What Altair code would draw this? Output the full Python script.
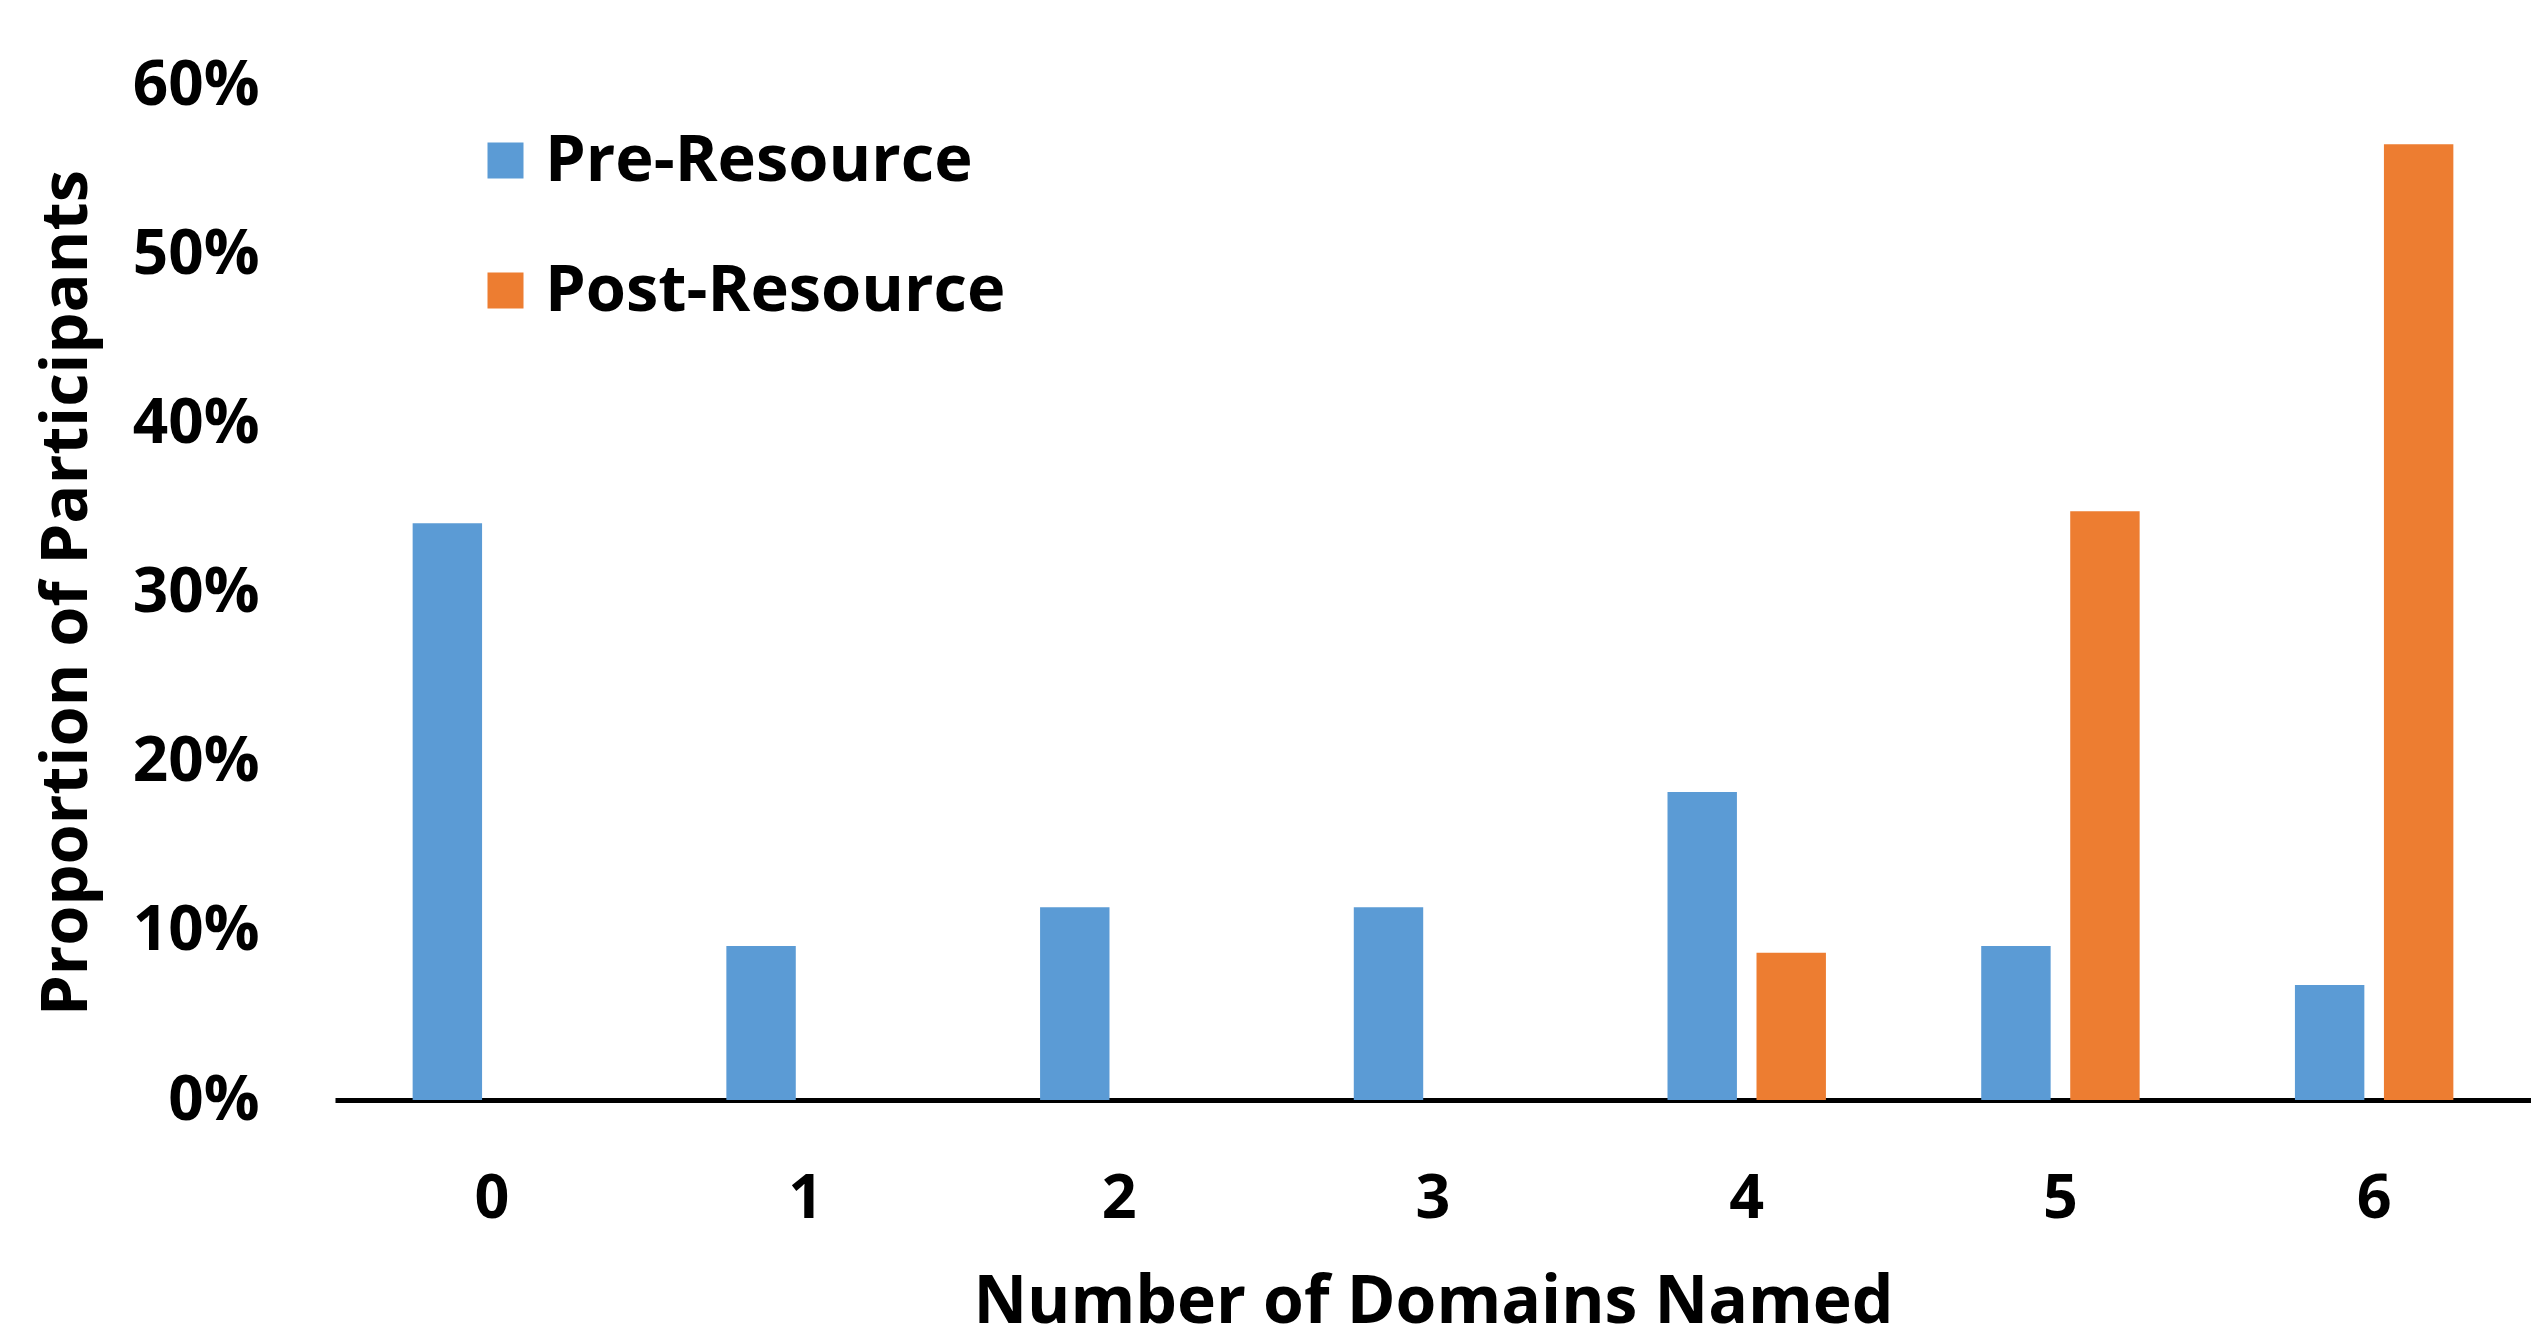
import altair as alt
import pandas as pd

categories = ["0", "1", "2", "3", "4", "5", "6"]
pre_resource = [0.341, 0.091, 0.114, 0.114, 0.182, 0.091, 0.068]
post_resource = [0.0, 0.0, 0.0, 0.0, 0.087, 0.348, 0.565]
series_names = ["Pre-Resource", "Post-Resource"]
y_ticks = [0, 0.1, 0.2, 0.3, 0.4, 0.5, 0.6]
colors = ["#5B9BD5", "#ED7D31"]

rows = []
for c, a, b in zip(categories, pre_resource, post_resource):
    rows.append({"domains": c, "series": series_names[0], "value": a})
    rows.append({"domains": c, "series": series_names[1], "value": b})
df = pd.DataFrame(rows)

FONT = "Open Sans"

chart = alt.Chart(df).mark_bar().encode(
    x=alt.X("domains:N", sort=categories,
            scale=alt.Scale(paddingInner=0.495, paddingOuter=0.2475),
            axis=alt.Axis(title="Number of Domains Named", labelAngle=0,
                          labelFontSize=61, labelFont=FONT, labelFontWeight="bold",
                          labelColor="#000000", labelPadding=69, ticks=False,
                          domainColor="#000000", domainWidth=5,
                          titleFontSize=66, titleFont=FONT, titleFontWeight="bold",
                          titleColor="#000000", titlePadding=41)),
    xOffset=alt.XOffset("series:N", sort=series_names,
                        scale=alt.Scale(paddingInner=0.22, paddingOuter=0)),
    y=alt.Y("value:Q",
            scale=alt.Scale(domain=[0, 0.6], nice=False),
            axis=alt.Axis(title="Proportion of Participants", values=y_ticks,
                          format=".0%", grid=False, domain=False, ticks=False,
                          labelFontSize=62, labelFont=FONT, labelFontWeight="bold",
                          labelColor="#000000", labelPadding=76,
                          titleFontSize=65, titleFont=FONT, titleFontWeight="bold",
                          titleColor="#000000", titlePadding=35)),
    color=alt.Color("series:N", sort=series_names,
                    scale=alt.Scale(domain=series_names, range=colors),
                    legend=alt.Legend(title=None, orient="none", legendX=138, legendY=43,
                                      symbolType="square", symbolSize=1296,
                                      symbolStrokeWidth=0, symbolOpacity=1,
                                      labelFontSize=65, labelFont=FONT,
                                      labelFontWeight="bold", labelColor="#000000",
                                      labelLimit=0, labelOffset=7, rowPadding=64)),
).properties(
    width=2196, height=1015,
    background="#ffffff",
    padding={"left": 26, "top": 46, "right": 0, "bottom": 0},
).configure_view(strokeWidth=0, stroke="transparent")

chart.save("out.html", embed_options={"renderer": "svg", "actions": False})
